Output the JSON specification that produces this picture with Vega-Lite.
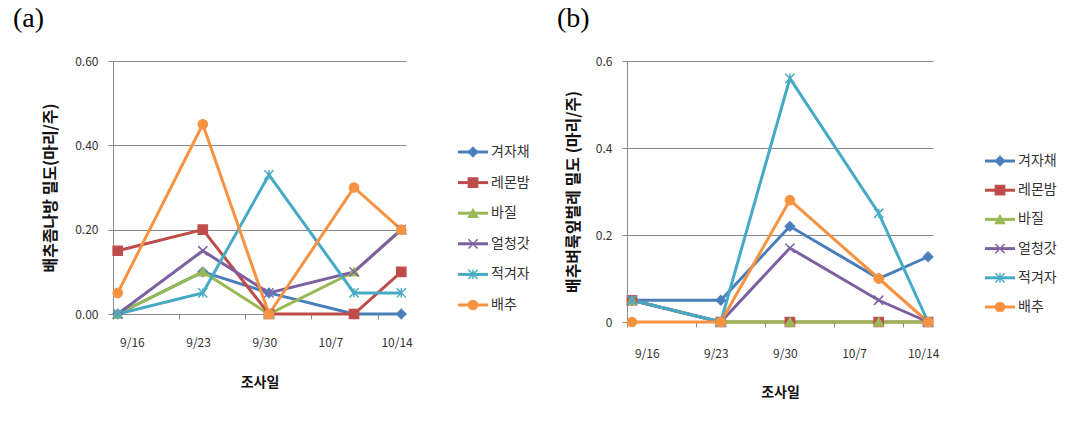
{
  "$schema": "https://vega.github.io/schema/vega-lite/v6.json",
  "padding": {"left": 13, "top": 5, "right": 5, "bottom": 5},
  "background": "white",
  "config": {
    "view": {"stroke": null},
    "font": "Noto Sans CJK KR",
    "axis": {
      "gridColor": "#8a8a8a", "domainColor": "#8a8a8a", "tickColor": "#8a8a8a",
      "labelFont": "Noto Sans CJK KR", "titleFont": "Noto Sans CJK KR",
      "labelColor": "#333333", "titleColor": "#111111",
      "labelFontSize": 12, "tickSize": 5
    },
    "title": {"font": "Liberation Serif", "fontSize": 28, "fontWeight": "normal", "color": "#000000", "anchor": "start", "baseline": "bottom", "frame": "group"}
  },
  "datasets": {
    "a": [
      {"series": "겨자채", "day": 14.5, "value": 0},
      {"series": "겨자채", "day": 23.5, "value": 0.10},
      {"series": "겨자채", "day": 30.5, "value": 0.05},
      {"series": "겨자채", "day": 39.5, "value": 0},
      {"series": "겨자채", "day": 44.5, "value": 0},
      {"series": "레몬밤", "day": 14.5, "value": 0.15},
      {"series": "레몬밤", "day": 23.5, "value": 0.20},
      {"series": "레몬밤", "day": 30.5, "value": 0},
      {"series": "레몬밤", "day": 39.5, "value": 0},
      {"series": "레몬밤", "day": 44.5, "value": 0.10},
      {"series": "바질", "day": 14.5, "value": 0},
      {"series": "바질", "day": 23.5, "value": 0.10},
      {"series": "바질", "day": 30.5, "value": 0},
      {"series": "바질", "day": 39.5, "value": 0.10},
      {"series": "바질", "day": 44.5, "value": 0.20},
      {"series": "얼청갓", "day": 14.5, "value": 0},
      {"series": "얼청갓", "day": 23.5, "value": 0.15},
      {"series": "얼청갓", "day": 30.5, "value": 0.05},
      {"series": "얼청갓", "day": 39.5, "value": 0.10},
      {"series": "얼청갓", "day": 44.5, "value": 0.20},
      {"series": "적겨자", "day": 14.5, "value": 0},
      {"series": "적겨자", "day": 23.5, "value": 0.05},
      {"series": "적겨자", "day": 30.5, "value": 0.33},
      {"series": "적겨자", "day": 39.5, "value": 0.05},
      {"series": "적겨자", "day": 44.5, "value": 0.05},
      {"series": "배추", "day": 14.5, "value": 0.05},
      {"series": "배추", "day": 23.5, "value": 0.45},
      {"series": "배추", "day": 30.5, "value": 0},
      {"series": "배추", "day": 39.5, "value": 0.30},
      {"series": "배추", "day": 44.5, "value": 0.20}
    ],
    "b": [
      {"series": "겨자채", "day": 14.5, "value": 0.05},
      {"series": "겨자채", "day": 23.5, "value": 0.05},
      {"series": "겨자채", "day": 30.5, "value": 0.22},
      {"series": "겨자채", "day": 39.5, "value": 0.10},
      {"series": "겨자채", "day": 44.5, "value": 0.15},
      {"series": "레몬밤", "day": 14.5, "value": 0.05},
      {"series": "레몬밤", "day": 23.5, "value": 0},
      {"series": "레몬밤", "day": 30.5, "value": 0},
      {"series": "레몬밤", "day": 39.5, "value": 0},
      {"series": "레몬밤", "day": 44.5, "value": 0},
      {"series": "바질", "day": 14.5, "value": 0.05},
      {"series": "바질", "day": 23.5, "value": 0},
      {"series": "바질", "day": 30.5, "value": 0},
      {"series": "바질", "day": 39.5, "value": 0},
      {"series": "바질", "day": 44.5, "value": 0},
      {"series": "얼청갓", "day": 14.5, "value": 0.05},
      {"series": "얼청갓", "day": 23.5, "value": 0},
      {"series": "얼청갓", "day": 30.5, "value": 0.17},
      {"series": "얼청갓", "day": 39.5, "value": 0.05},
      {"series": "얼청갓", "day": 44.5, "value": 0},
      {"series": "적겨자", "day": 14.5, "value": 0.05},
      {"series": "적겨자", "day": 23.5, "value": 0},
      {"series": "적겨자", "day": 30.5, "value": 0.56},
      {"series": "적겨자", "day": 39.5, "value": 0.25},
      {"series": "적겨자", "day": 44.5, "value": 0},
      {"series": "배추", "day": 14.5, "value": 0},
      {"series": "배추", "day": 23.5, "value": 0},
      {"series": "배추", "day": 30.5, "value": 0.28},
      {"series": "배추", "day": 39.5, "value": 0.10},
      {"series": "배추", "day": 44.5, "value": 0}
    ]
  },
  "hconcat": [
    {
      "width": 293, "height": 253,
      "title": {"text": "(a)", "dx": -100, "offset": 22},
      "data": {"name": "a"},
      "encoding": {
        "x": {"field": "day", "type": "quantitative", "scale": {"domain": [14, 45], "nice": false, "zero": false},
              "axis": {"title": "조사일", "titleFontSize": 14, "titleFontWeight": "bold", "titlePadding": 27, "labelPadding": 18, "grid": false, "domain": false,
                       "values": [14, 16, 21, 23, 28, 30, 35, 37, 42, 44],
                       "labelExpr": "datum.value % 7 == 2 ? (datum.value <= 30 ? '9/' + datum.value : '10/' + (datum.value - 30)) : ''",
                       "tickOpacity": {"condition": {"test": "datum.value % 7 == 0", "value": 1}, "value": 0}}},
        "y": {"field": "value", "type": "quantitative", "scale": {"domain": [0, 0.6], "nice": false},
              "axis": {"title": "배추좀나방 밀도(마리/주)", "titleFontSize": 16, "titleFontWeight": "bold", "titlePadding": 16, "labelPadding": 10,
                       "values": [0, 0.2, 0.4, 0.6], "format": ".2f", "grid": true}}
      },
      "layer": [
        {"mark": {"type": "line", "strokeWidth": 3},
         "encoding": {"color": {"field": "series", "type": "nominal", "legend": null,
           "scale": {"domain": ["겨자채", "레몬밤", "바질", "얼청갓", "적겨자", "배추"], "range": ["#4A7EBB", "#BE4B48", "#98B954", "#7D60A0", "#46AAC5", "#F69240"]}}}},
        {"mark": {"type": "point", "filled": true, "opacity": 1, "strokeWidth": 1.5, "size": 85},
         "encoding": {
           "color": {"field": "series", "type": "nominal", "legend": null,
             "scale": {"domain": ["겨자채", "레몬밤", "바질", "얼청갓", "적겨자", "배추"], "range": ["#4F81BD", "#C0504D", "#9BBB59", "#8064A2", "#4BACC6", "#F79646"]}},
           "stroke": {"field": "series", "type": "nominal", "legend": null,
             "scale": {"domain": ["겨자채", "레몬밤", "바질", "얼청갓", "적겨자", "배추"], "range": ["#4F81BD", "#C0504D", "#9BBB59", "#8064A2", "#4BACC6", "#F79646"]}},
           "shape": {"field": "series", "type": "nominal", "legend": null,
             "scale": {"domain": ["겨자채", "레몬밤", "바질", "얼청갓", "적겨자", "배추"], "range": ["diamond", "square", "triangle-up", "M-1,-1L1,1M-1,1L1,-1", "M-1,-1L1,1M-1,1L1,-1M0,-1L0,1", "circle"]}}
         }}
      ]
    },
    {
      "width": 117, "height": 253,
      "data": {"name": "a"},
      "transform": [{"aggregate": [{"op": "count", "as": "n"}], "groupby": ["series"]}],
      "encoding": {
        "y": {"field": "series", "type": "nominal", "axis": null,
              "scale": {"type": "point", "padding": 0, "domain": ["겨자채", "레몬밤", "바질", "얼청갓", "적겨자", "배추"], "range": [91, 244]}}
      },
      "layer": [
        {"mark": {"type": "rule", "strokeWidth": 3},
         "encoding": {"x": {"datum": 0, "type": "quantitative", "scale": {"domain": [0, 117], "nice": false}, "axis": null}, "x2": {"datum": 30},
           "color": {"field": "series", "type": "nominal", "legend": null,
             "scale": {"domain": ["겨자채", "레몬밤", "바질", "얼청갓", "적겨자", "배추"], "range": ["#4A7EBB", "#BE4B48", "#98B954", "#7D60A0", "#46AAC5", "#F69240"]}}}},
        {"mark": {"type": "point", "filled": true, "opacity": 1, "strokeWidth": 1.5, "size": 85},
         "encoding": {
           "x": {"datum": 15, "type": "quantitative"},
           "color": {"field": "series", "type": "nominal", "legend": null,
             "scale": {"domain": ["겨자채", "레몬밤", "바질", "얼청갓", "적겨자", "배추"], "range": ["#4F81BD", "#C0504D", "#9BBB59", "#8064A2", "#4BACC6", "#F79646"]}},
           "stroke": {"field": "series", "type": "nominal", "legend": null,
             "scale": {"domain": ["겨자채", "레몬밤", "바질", "얼청갓", "적겨자", "배추"], "range": ["#4F81BD", "#C0504D", "#9BBB59", "#8064A2", "#4BACC6", "#F79646"]}},
           "shape": {"field": "series", "type": "nominal", "legend": null,
             "scale": {"domain": ["겨자채", "레몬밤", "바질", "얼청갓", "적겨자", "배추"], "range": ["diamond", "square", "triangle-up", "M-1,-1L1,1M-1,1L1,-1", "M-1,-1L1,1M-1,1L1,-1M0,-1L0,1", "circle"]}}
         }},
        {"mark": {"type": "text", "align": "left", "baseline": "middle", "fontSize": 14, "color": "#333333", "font": "Noto Sans CJK KR"},
         "encoding": {"x": {"datum": 33, "type": "quantitative"}, "text": {"field": "series"}}}
      ]
    },
    {
      "width": 306, "height": 261,
      "title": {"text": "(b)", "dx": -70, "offset": 22},
      "data": {"name": "b"},
      "encoding": {
        "x": {"field": "day", "type": "quantitative", "scale": {"domain": [14, 45], "nice": false, "zero": false},
              "axis": {"title": "조사일", "titleFontSize": 14, "titleFontWeight": "bold", "titlePadding": 26, "labelPadding": 21, "grid": false, "domain": false,
                       "values": [14, 16, 21, 23, 28, 30, 35, 37, 42, 44],
                       "labelExpr": "datum.value % 7 == 2 ? (datum.value <= 30 ? '9/' + datum.value : '10/' + (datum.value - 30)) : ''",
                       "tickOpacity": {"condition": {"test": "datum.value % 7 == 0", "value": 1}, "value": 0}}},
        "y": {"field": "value", "type": "quantitative", "scale": {"domain": [0, 0.6], "nice": false},
              "axis": {"title": "배추벼룩잎벌레 밀도 (마리/주)", "titleFontSize": 16, "titleFontWeight": "bold", "titlePadding": 14, "labelPadding": 10,
                       "values": [0, 0.2, 0.4, 0.6], "format": "~g", "grid": true}}
      },
      "layer": [
        {"mark": {"type": "line", "strokeWidth": 3},
         "encoding": {"color": {"field": "series", "type": "nominal", "legend": null,
           "scale": {"domain": ["겨자채", "레몬밤", "바질", "얼청갓", "적겨자", "배추"], "range": ["#4A7EBB", "#BE4B48", "#98B954", "#7D60A0", "#46AAC5", "#F69240"]}}}},
        {"mark": {"type": "point", "filled": true, "opacity": 1, "strokeWidth": 1.5, "size": 85},
         "encoding": {
           "color": {"field": "series", "type": "nominal", "legend": null,
             "scale": {"domain": ["겨자채", "레몬밤", "바질", "얼청갓", "적겨자", "배추"], "range": ["#4F81BD", "#C0504D", "#9BBB59", "#8064A2", "#4BACC6", "#F79646"]}},
           "stroke": {"field": "series", "type": "nominal", "legend": null,
             "scale": {"domain": ["겨자채", "레몬밤", "바질", "얼청갓", "적겨자", "배추"], "range": ["#4F81BD", "#C0504D", "#9BBB59", "#8064A2", "#4BACC6", "#F79646"]}},
           "shape": {"field": "series", "type": "nominal", "legend": null,
             "scale": {"domain": ["겨자채", "레몬밤", "바질", "얼청갓", "적겨자", "배추"], "range": ["diamond", "square", "triangle-up", "M-1,-1L1,1M-1,1L1,-1", "M-1,-1L1,1M-1,1L1,-1M0,-1L0,1", "circle"]}}
         }}
      ]
    },
    {
      "width": 95, "height": 261,
      "data": {"name": "b"},
      "transform": [{"aggregate": [{"op": "count", "as": "n"}], "groupby": ["series"]}],
      "encoding": {
        "y": {"field": "series", "type": "nominal", "axis": null,
              "scale": {"type": "point", "padding": 0, "domain": ["겨자채", "레몬밤", "바질", "얼청갓", "적겨자", "배추"], "range": [100, 246]}}
      },
      "layer": [
        {"mark": {"type": "rule", "strokeWidth": 3},
         "encoding": {"x": {"datum": 0, "type": "quantitative", "scale": {"domain": [0, 95], "nice": false}, "axis": null}, "x2": {"datum": 30},
           "color": {"field": "series", "type": "nominal", "legend": null,
             "scale": {"domain": ["겨자채", "레몬밤", "바질", "얼청갓", "적겨자", "배추"], "range": ["#4A7EBB", "#BE4B48", "#98B954", "#7D60A0", "#46AAC5", "#F69240"]}}}},
        {"mark": {"type": "point", "filled": true, "opacity": 1, "strokeWidth": 1.5, "size": 85},
         "encoding": {
           "x": {"datum": 15, "type": "quantitative"},
           "color": {"field": "series", "type": "nominal", "legend": null,
             "scale": {"domain": ["겨자채", "레몬밤", "바질", "얼청갓", "적겨자", "배추"], "range": ["#4F81BD", "#C0504D", "#9BBB59", "#8064A2", "#4BACC6", "#F79646"]}},
           "stroke": {"field": "series", "type": "nominal", "legend": null,
             "scale": {"domain": ["겨자채", "레몬밤", "바질", "얼청갓", "적겨자", "배추"], "range": ["#4F81BD", "#C0504D", "#9BBB59", "#8064A2", "#4BACC6", "#F79646"]}},
           "shape": {"field": "series", "type": "nominal", "legend": null,
             "scale": {"domain": ["겨자채", "레몬밤", "바질", "얼청갓", "적겨자", "배추"], "range": ["diamond", "square", "triangle-up", "M-1,-1L1,1M-1,1L1,-1", "M-1,-1L1,1M-1,1L1,-1M0,-1L0,1", "circle"]}}
         }},
        {"mark": {"type": "text", "align": "left", "baseline": "middle", "fontSize": 14, "color": "#333333", "font": "Noto Sans CJK KR"},
         "encoding": {"x": {"datum": 33, "type": "quantitative"}, "text": {"field": "series"}}}
      ]
    }
  ],
  "spacing": 52,
  "bounds": "flush",
  "resolve": {"scale": {"color": "independent", "stroke": "independent", "shape": "independent", "x": "independent", "y": "independent"}}
}
